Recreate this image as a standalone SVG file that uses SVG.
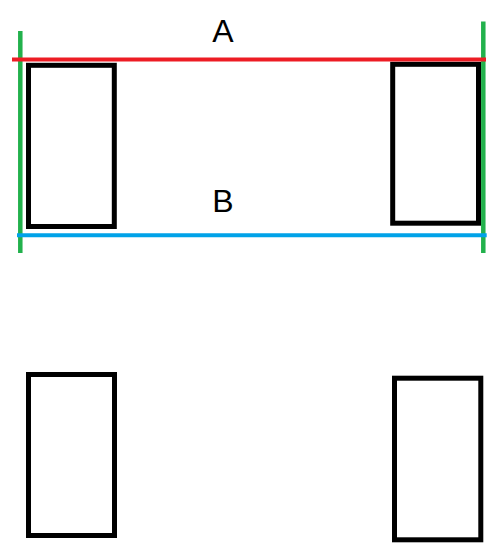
<svg xmlns="http://www.w3.org/2000/svg" width="491" height="555" viewBox="0 0 491 555">
<style>
.box{fill:none;stroke:#000;stroke-width:5}
.lbl{font-family:"Liberation Sans",Arial,sans-serif;font-size:32px;fill:#000;text-anchor:middle}
</style>
<rect width="491" height="555" fill="#fff"/>
<g id="box-top-left"><rect class="box" x="28.5" y="65.3" width="85.8" height="161.2"/></g>
<g id="box-top-right"><rect class="box" x="392.7" y="64.3" width="85.8" height="158.9"/></g>
<g id="box-bottom-left"><rect class="box" x="28.5" y="374.5" width="86" height="161"/></g>
<g id="box-bottom-right"><rect class="box" x="394.5" y="378.2" width="86.3" height="161.6"/></g>
<g id="connectors">
<line x1="20.3" y1="31" x2="20.3" y2="253" stroke="#22B14C" stroke-width="4.5"/>
<line x1="483.3" y1="21.5" x2="483.3" y2="253" stroke="#22B14C" stroke-width="4.5"/>
<line x1="12" y1="59.4" x2="486" y2="59.4" stroke="#ED1C24" stroke-width="4"/>
<line x1="17" y1="235.3" x2="486.7" y2="235.3" stroke="#00A2E8" stroke-width="4"/>
</g>
<g id="label-A"><text class="lbl" x="223" y="42.3">A</text></g>
<g id="label-B"><text class="lbl" x="223" y="212.3">B</text></g>
</svg>
